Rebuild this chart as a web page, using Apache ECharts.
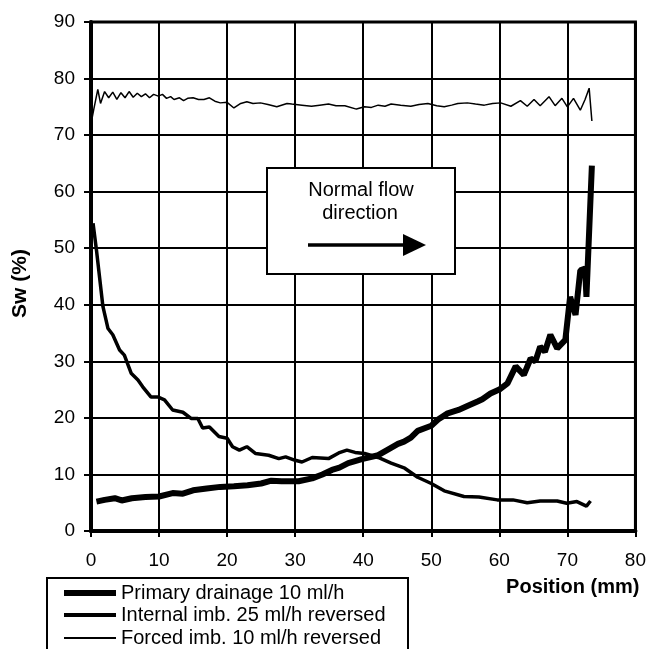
<!DOCTYPE html>
<html>
<head>
<meta charset="utf-8">
<script src="https://cdn.jsdelivr.net/npm/echarts@6/dist/echarts.min.js"></script>
<style>
  html, body { margin: 0; padding: 0; background: #fff; }
  #chart { width: 649px; height: 649px; }
</style>
</head>
<body>
<div id="chart"></div>
<script>
// series names (legend)
var seriesNames = ['Primary drainage 10 ml/h', 'Internal imb. 25 ml/h reversed', 'Forced imb. 10 ml/h reversed'];

// Primary drainage 10 ml/h
var drainX = [0.8, 2, 3.5, 4.5, 6, 8, 10, 12, 13.5, 15, 17, 19, 21, 23, 25, 26.5, 28, 30.5, 32.5, 34, 35.4, 36.5, 37.8, 39.8, 42.2, 43.5, 45.1, 46, 47, 48, 50, 51, 52.4, 54, 55.3, 56.8, 57.5, 58.7, 60, 61.2, 62.4, 63.6, 64.6, 65.3, 66, 66.7, 67.5, 68.5, 69.7, 70.4, 71.2, 71.9, 72.6, 72.8, 73.6];
var drainY = [5.2, 5.5, 5.8, 5.4, 5.8, 6.0, 6.1, 6.7, 6.6, 7.2, 7.5, 7.8, 7.9, 8.1, 8.4, 8.9, 8.8, 8.8, 9.3, 10.0, 10.8, 11.2, 12.0, 12.7, 13.4, 14.3, 15.4, 15.8, 16.5, 17.7, 18.6, 19.7, 20.8, 21.4, 22.1, 22.9, 23.3, 24.3, 25.0, 26.1, 29.1, 27.6, 30.5, 30.0, 32.6, 31.7, 34.7, 32.3, 33.8, 41.4, 38.2, 46.1, 46.4, 41.4, 64.6];

// Internal imb. 25 ml/h reversed
var internalX = [0.3, 0.8, 1.75, 2.5, 3.2, 4.2, 4.9, 5.9, 6.9, 7.6, 8.8, 9.8, 10.8, 12.0, 13.5, 14.7, 15.7, 16.4, 17.4, 18.8, 20.0, 20.8, 21.8, 22.9, 24.2, 26.1, 27.6, 28.6, 30.0, 31.0, 32.5, 34.9, 36.4, 37.6, 38.8, 40.2, 42.2, 44.1, 46.1, 48.0, 50, 51.9, 54.8, 57, 59.7, 62, 64.1, 66, 68.5, 69.9, 71.4, 72.8, 73.4];
var internalY = [54.4, 49.7, 39.7, 35.8, 34.7, 32.0, 31.1, 27.9, 26.7, 25.5, 23.7, 23.7, 23.2, 21.4, 21.0, 19.9, 19.9, 18.2, 18.4, 16.7, 16.4, 14.9, 14.3, 14.9, 13.7, 13.4, 12.8, 13.1, 12.5, 12.2, 13.0, 12.8, 13.8, 14.3, 13.9, 13.7, 13.0, 12.0, 11.1, 9.5, 8.4, 7.1, 6.1, 6.0, 5.5, 5.5, 5.0, 5.3, 5.3, 4.9, 5.2, 4.4, 5.3];

// Forced imb. 10 ml/h reversed
var forcedX = [0.0, 0.4, 1.0, 1.4, 2.0, 2.6, 3.2, 3.8, 4.4, 5.0, 5.6, 6.2, 6.8, 7.4, 8.0, 8.6, 9.2, 9.9, 10.5, 11.1, 11.7, 12.2, 13.0, 13.6, 14.2, 15.0, 15.8, 16.6, 17.4, 18.2, 19.0, 20.0, 21.0, 22.0, 22.9, 23.8, 24.9, 26.0, 27.3, 28.8, 29.5, 31.0, 32.4, 33.6, 34.9, 36.0, 37.3, 39.0, 40.2, 41.2, 42.2, 43.2, 44.1, 45.5, 47.0, 48.2, 49.5, 50.8, 51.9, 53.0, 53.9, 55.3, 56.5, 57.8, 59.0, 60.2, 61.7, 63.1, 64.1, 65.1, 66.0, 67.3, 68.2, 69.2, 70.0, 70.9, 71.9, 72.6, 73.2, 73.6];
var forcedY = [72.0, 74.5, 78.1, 75.6, 77.7, 76.6, 77.6, 76.3, 77.5, 76.6, 77.7, 76.7, 77.4, 76.8, 77.3, 76.6, 77.2, 76.9, 77.2, 76.5, 76.8, 76.3, 76.6, 76.1, 76.5, 76.6, 76.3, 76.3, 76.6, 76.0, 75.7, 75.8, 74.8, 75.6, 75.9, 75.6, 75.7, 75.4, 75.0, 75.6, 75.5, 75.3, 75.1, 75.3, 75.5, 75.2, 75.2, 74.6, 75.0, 74.9, 75.3, 75.1, 75.5, 75.3, 75.1, 75.4, 75.6, 75.2, 75.0, 75.3, 75.6, 75.7, 75.5, 75.3, 75.6, 75.7, 75.1, 76.1, 75.1, 76.3, 75.2, 76.8, 75.2, 76.5, 75.0, 76.5, 74.4, 76.3, 78.3, 72.5];

function zip(xs, ys) {
    var out = [];
    for (var i = 0; i < xs.length; i++) out.push([xs[i], ys[i]]);
    return out;
}

var FONT = 'Liberation Sans, Arial, Helvetica, sans-serif';

function legendFor(name, top, h) {
    return {
        data: [name],
        left: 64,
        top: top,
        padding: 0,
        icon: 'rect',
        itemWidth: 52,
        itemHeight: h,
        selectedMode: false,
        textStyle: { color: '#000', fontSize: 20, fontFamily: FONT }
    };
}

var chart = echarts.init(document.getElementById('chart'));
var option = {
    animation: false,
    backgroundColor: '#fff',
    textStyle: { fontFamily: FONT, color: '#000' },
    grid: {
        left: 91, right: 10, top: 22, bottom: 118,
        show: true, borderColor: '#000', borderWidth: 3, backgroundColor: 'transparent'
    },
    legend: [
        legendFor(seriesNames[0], 583, 6),
        legendFor(seriesNames[1], 605, 4),
        legendFor(seriesNames[2], 628, 2)
    ],
    xAxis: {
        type: 'value',
        min: 0, max: 80, interval: 10,
        name: 'Position (mm)',
        nameLocation: 'end',
        nameGap: 4,
        nameTextStyle: {
            align: 'right', verticalAlign: 'top', padding: [46, 0, 0, 0],
            fontSize: 20, fontWeight: 'bold', color: '#000', fontFamily: FONT
        },
        axisLine: { show: true, onZero: false, lineStyle: { color: '#000', width: 4 } },
        axisTick: { show: true, length: 6, lineStyle: { color: '#000', width: 2 } },
        axisLabel: { color: '#000', fontSize: 19, margin: 20, fontFamily: FONT },
        splitLine: { show: true, lineStyle: { color: '#000', width: 2 } }
    },
    yAxis: {
        type: 'value',
        min: 0, max: 90, interval: 10,
        name: 'Sw (%)',
        nameLocation: 'middle',
        nameGap: 60,
        nameTextStyle: { fontSize: 21, fontWeight: 'bold', color: '#000', fontFamily: FONT, padding: [0, 0, 0, -14] },
        axisLine: { show: true, onZero: false, lineStyle: { color: '#000', width: 4 } },
        axisTick: { show: true, length: 7, lineStyle: { color: '#000', width: 2 } },
        axisLabel: { color: '#000', fontSize: 19, margin: 16, fontFamily: FONT },
        splitLine: { show: true, lineStyle: { color: '#000', width: 2 } }
    },
    graphic: [
        {
            type: 'rect', z: 50,
            shape: { x: 267, y: 168, width: 188, height: 106 },
            style: { fill: '#fff', stroke: '#000', lineWidth: 2 }
        },
        {
            type: 'text', z: 51, x: 361, y: 190,
            style: { text: 'Normal flow', fill: '#000', font: '20px ' + FONT, align: 'center', verticalAlign: 'middle' }
        },
        {
            type: 'text', z: 51, x: 360, y: 213,
            style: { text: 'direction', fill: '#000', font: '20px ' + FONT, align: 'center', verticalAlign: 'middle' }
        },
        {
            type: 'line', z: 51,
            shape: { x1: 308, y1: 245, x2: 406, y2: 245 },
            style: { stroke: '#000', lineWidth: 3.5 }
        },
        {
            type: 'polygon', z: 51,
            shape: { points: [[403, 234], [426, 245], [403, 256]] },
            style: { fill: '#000' }
        },
        {
            type: 'rect', z: 1,
            shape: { x: 47, y: 578, width: 361, height: 90 },
            style: { fill: '#fff', stroke: '#000', lineWidth: 2 }
        }
    ],
    series: [
        {
            name: seriesNames[0], type: 'line', symbol: 'none', z: 5,
            data: zip(drainX, drainY),
            itemStyle: { color: '#000' },
            lineStyle: { color: '#000', width: 6 }
        },
        {
            name: seriesNames[1], type: 'line', symbol: 'none', z: 4,
            data: zip(internalX, internalY),
            itemStyle: { color: '#000' },
            lineStyle: { color: '#000', width: 3.5 }
        },
        {
            name: seriesNames[2], type: 'line', symbol: 'none', z: 3,
            data: zip(forcedX, forcedY),
            itemStyle: { color: '#000' },
            lineStyle: { color: '#000', width: 1.5 }
        }
    ]
};
chart.setOption(option);
</script>
</body>
</html>
